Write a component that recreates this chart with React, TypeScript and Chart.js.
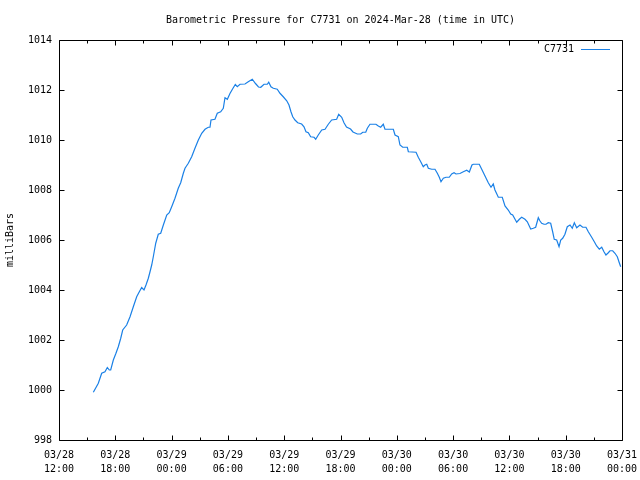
import React, { useEffect, useRef } from "react";
import { Chart, registerables } from "chart.js";

Chart.register(...registerables);

const TITLE = "Barometric Pressure for C7731 on 2024-Mar-28 (time in UTC)";
const SERIES_NAME = "C7731";
const Y_LABEL = "milliBars";
const LINE_COLOR = "#1a80e6";
const FONT = "'DejaVu Sans Mono', 'Liberation Mono', monospace";

// hours since 03/28 12:00 UTC
const hoursSinceStart = [
  3.66, 4.19, 4.55, 4.9, 5.15, 5.36, 5.51, 5.79, 6.07, 6.32, 6.58, 6.79, 7.21, 7.57, 7.92, 8.28, 8.56, 8.81,
  9.06, 9.27, 9.52, 9.7, 9.88, 10.05, 10.31, 10.58, 10.84, 11.12, 11.48, 11.75, 12.01, 12.36, 12.71, 12.97,
  13.25, 13.43, 13.78, 14.14, 14.49, 14.85, 15.21, 15.56, 15.91, 16.09, 16.2, 16.62, 16.87, 17.23, 17.51,
  17.69, 17.94, 18.22, 18.51, 18.79, 19.0, 19.29, 19.82, 20.17, 20.6, 20.94, 21.26, 21.5, 21.85, 22.2, 22.35,
  22.59, 22.84, 23.26, 23.55, 23.9, 24.27, 24.51, 24.72, 24.91, 25.15, 25.44, 25.86, 26.11, 26.32, 26.57,
  26.82, 27.18, 27.36, 27.63, 28.0, 28.35, 28.7, 29.06, 29.59, 29.81, 30.13, 30.37, 30.64, 31.07, 31.33,
  31.79, 32.15, 32.37, 32.69, 32.86, 33.14, 33.78, 34.03, 34.28, 34.56, 34.74, 35.63, 35.81, 36.16, 36.34,
  36.63, 37.12, 37.23, 38.05, 38.29, 38.55, 38.82, 39.0, 39.19, 39.36, 39.72, 40.07, 40.32, 40.53, 40.71,
  40.96, 41.24, 41.59, 41.85, 42.1, 42.31, 42.73, 43.09, 43.45, 43.73, 44.01, 44.15, 44.79, 45.05, 45.4,
  45.75, 46.04, 46.28, 46.46, 46.82, 47.24, 47.53, 47.88, 48.14, 48.35, 48.6, 48.78, 49.06, 49.31, 49.66,
  49.91, 50.27, 50.55, 50.8, 51.08, 51.26, 51.44, 51.69, 51.9, 52.14, 52.4, 52.61, 52.78, 53.04, 53.29,
  53.47, 53.68, 53.92, 54.17, 54.46, 54.7, 54.92, 55.17, 55.52, 55.81, 56.16, 56.41, 56.77, 57.05, 57.3,
  57.58, 57.84, 58.08, 58.29, 58.54, 58.72, 59.01, 59.25, 59.5, 59.71, 59.86,
];

const pressureMb = [
  999.91, 1000.27, 1000.67, 1000.73, 1000.9, 1000.8, 1000.8, 1001.2, 1001.47, 1001.73, 1002.07, 1002.4,
  1002.6, 1002.93, 1003.33, 1003.73, 1003.93, 1004.1, 1004.0, 1004.2, 1004.47, 1004.73, 1005.0, 1005.33,
  1005.87, 1006.23, 1006.27, 1006.6, 1007.0, 1007.09, 1007.33, 1007.67, 1008.07, 1008.29, 1008.67, 1008.87,
  1009.07, 1009.33, 1009.67, 1010.0, 1010.27, 1010.43, 1010.51, 1010.51, 1010.8, 1010.83, 1011.07, 1011.13,
  1011.27, 1011.69, 1011.63, 1011.86, 1012.05, 1012.22, 1012.13, 1012.23, 1012.24, 1012.33, 1012.43,
  1012.26, 1012.12, 1012.11, 1012.23, 1012.23, 1012.31, 1012.13, 1012.07, 1012.03, 1011.87, 1011.73,
  1011.57, 1011.4, 1011.13, 1010.93, 1010.8, 1010.69, 1010.64, 1010.53, 1010.33, 1010.29, 1010.13, 1010.11,
  1010.03, 1010.2, 1010.4, 1010.43, 1010.63, 1010.8, 1010.83, 1011.03, 1010.91, 1010.69, 1010.52, 1010.44,
  1010.32, 1010.24, 1010.24, 1010.31, 1010.31, 1010.47, 1010.63, 1010.63, 1010.56, 1010.51, 1010.63,
  1010.43, 1010.43, 1010.2, 1010.13, 1009.8, 1009.71, 1009.71, 1009.53, 1009.51, 1009.31, 1009.13, 1008.93,
  1009.0, 1009.03, 1008.87, 1008.83, 1008.83, 1008.67, 1008.51, 1008.33, 1008.47, 1008.51, 1008.51,
  1008.64, 1008.69, 1008.64, 1008.66, 1008.73, 1008.79, 1008.72, 1009.0, 1009.03, 1009.03, 1008.83,
  1008.56, 1008.29, 1008.11, 1008.24, 1008.0, 1007.71, 1007.71, 1007.36, 1007.2, 1007.04, 1007.0, 1006.83,
  1006.71, 1006.83, 1006.91, 1006.83, 1006.73, 1006.44, 1006.47, 1006.51, 1006.89, 1006.76, 1006.67,
  1006.63, 1006.63, 1006.69, 1006.67, 1006.33, 1006.03, 1006.0, 1005.73, 1006.0, 1006.07, 1006.23, 1006.53,
  1006.6, 1006.47, 1006.69, 1006.49, 1006.6, 1006.51, 1006.51, 1006.33, 1006.11, 1005.93, 1005.76, 1005.63,
  1005.71, 1005.53, 1005.4, 1005.49, 1005.57, 1005.57, 1005.47, 1005.33, 1005.09, 1004.93,
];

const xTickDates = ["03/28", "03/28", "03/29", "03/29", "03/29", "03/29", "03/30", "03/30", "03/30", "03/30", "03/31"];
const xTickTimes = ["12:00", "18:00", "00:00", "06:00", "12:00", "18:00", "00:00", "06:00", "12:00", "18:00", "00:00"];
const X_MAX_HOURS = 60;
const X_MAJOR_STEP = 6;
const X_MINOR_STEP = 3;
const Y_MIN = 998;
const Y_MAX = 1014;
const Y_STEP = 2;

const framePlugin = {
  id: "gnuplotFrame",
  afterDraw(chart: any) {
    const { ctx, chartArea: ca, scales } = chart;
    const xs = scales.x;
    const ys = scales.y;
    ctx.save();
    ctx.strokeStyle = "#000";
    ctx.lineWidth = 1;
    const L = Math.round(ca.left) + 0.5;
    const R = Math.round(ca.right) + 0.5;
    const T = Math.round(ca.top) + 0.5;
    const B = Math.round(ca.bottom) + 0.5;
    ctx.beginPath();
    ctx.rect(L, T, R - L, B - T);
    for (let h = 0; h <= X_MAX_HOURS; h += X_MINOR_STEP) {
      const px = Math.round(xs.getPixelForValue(h)) + 0.5;
      const len = h % X_MAJOR_STEP === 0 ? 5 : 3;
      ctx.moveTo(px, B);
      ctx.lineTo(px, B - len);
      ctx.moveTo(px, T);
      ctx.lineTo(px, T + len);
    }
    for (let v = Y_MIN; v <= Y_MAX; v += Y_STEP) {
      const py = Math.round(ys.getPixelForValue(v)) + 0.5;
      ctx.moveTo(L, py);
      ctx.lineTo(L + 5, py);
      ctx.moveTo(R, py);
      ctx.lineTo(R - 5, py);
    }
    ctx.stroke();

    ctx.fillStyle = "#000";
    ctx.font = `10px ${FONT}`;
    ctx.textAlign = "center";
    ctx.textBaseline = "middle";
    ctx.fillText(TITLE, (ca.left + ca.right) / 2, 20);

    // legend
    ctx.textAlign = "right";
    ctx.fillText(SERIES_NAME, 574, 49);
    ctx.beginPath();
    ctx.strokeStyle = chart.data.datasets[0].borderColor;
    ctx.moveTo(581, 49.5);
    ctx.lineTo(610, 49.5);
    ctx.stroke();
    ctx.restore();
  },
};

export default function App() {
  const ref = useRef<HTMLCanvasElement | null>(null);
  useEffect(() => {
    if (!ref.current) return;
    const chart = new Chart(ref.current, {
      type: "line",
      data: {
        datasets: [
          {
            label: SERIES_NAME,
            data: hoursSinceStart.map((h, i) => ({ x: h, y: pressureMb[i] })),
            borderColor: LINE_COLOR,
            borderWidth: 1.2,
            pointRadius: 0,
            tension: 0,
            fill: false,
          },
        ],
      },
      options: {
        animation: false,
        responsive: false,
        maintainAspectRatio: false,
        layout: { padding: { left: 0, right: 18, top: 40, bottom: 0 } },
        plugins: {
          legend: { display: false },
          title: { display: false },
          tooltip: { enabled: false },
        },
        scales: {
          x: {
            type: "linear",
            min: 0,
            max: X_MAX_HOURS,
            grid: { display: false, drawTicks: false },
            border: { display: false },
            afterFit: (s: any) => {
              s.height = 40;
              s.paddingLeft = 0;
              s.paddingRight = 0;
            },
            afterBuildTicks: (s: any) => {
              const t = [];
              for (let h = 0; h <= X_MAX_HOURS; h += X_MAJOR_STEP) t.push({ value: h });
              s.ticks = t;
            },
            ticks: {
              autoSkip: false,
              maxRotation: 0,
              padding: 8,
              color: "#000",
              font: { family: FONT, size: 10, lineHeight: 1.4 },
              callback: (v: any) => {
                const i = Math.round(Number(v) / X_MAJOR_STEP);
                return [xTickDates[i], xTickTimes[i]];
              },
            },
          },
          y: {
            min: Y_MIN,
            max: Y_MAX,
            grid: { display: false, drawTicks: false },
            border: { display: false },
            afterFit: (s: any) => {
              s.width = 59;
              s.paddingTop = 0;
              s.paddingBottom = 0;
            },
            ticks: {
              stepSize: Y_STEP,
              padding: 7,
              color: "#000",
              font: { family: FONT, size: 10 },
              callback: (v: any) => String(v),
            },
            title: {
              display: true,
              text: Y_LABEL,
              color: "#000",
              font: { family: FONT, size: 10 },
              padding: { top: 4, bottom: 4 },
            },
          },
        },
      },
      plugins: [framePlugin],
    });
    return () => chart.destroy();
  }, []);
  return (
    <div style={{ position: "absolute", left: 0, top: 0, width: 640, height: 480, background: "#fff" }}>
      <canvas ref={ref} width={640} height={480} />
    </div>
  );
}
